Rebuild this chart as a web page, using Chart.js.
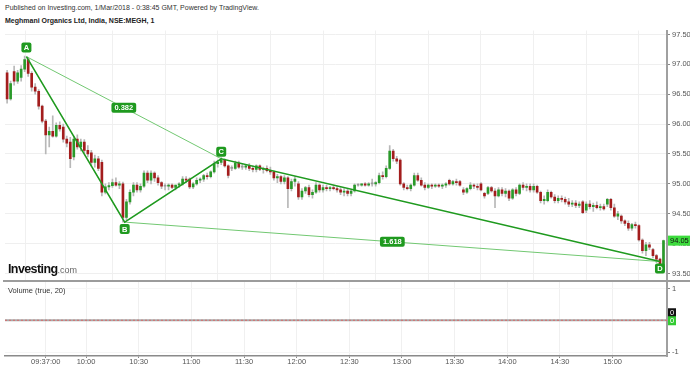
<!DOCTYPE html>
<html>
<head>
<meta charset="utf-8">
<script src="https://cdn.jsdelivr.net/npm/chart.js@4.4.0/dist/chart.umd.min.js"></script>
<style>
    body { margin: 0; width: 690px; height: 368px; background: #fff; overflow: hidden; position: relative; font-family: "Liberation Sans", Arial, sans-serif; }
    #head1 { position: absolute; left: 5px; top: 4px; font-size: 7px; color: #333; white-space: nowrap; }
    #head2 { position: absolute; left: 5px; top: 17px; font-size: 7px; font-weight: bold; color: #222; white-space: nowrap; }
    #priceChart { position: absolute; left: 0; top: 24px; }
    #volChart { position: absolute; left: 0; top: 275px; }
    #sep { position: absolute; left: 3px; top: 280px; width: 687px; height: 2px; background: #9c9c9c; }
    #logo { position: absolute; left: 8px; top: 259px; white-space: nowrap; }
    #logo b { font-size: 12.5px; color: #111; letter-spacing: -0.6px; }
    #logo span { font-size: 9px; color: #666; }
</style>
</head>
<body>
<div id="head1">Published on Investing.com, 1/Mar/2018 - 0:38:45 GMT, Powered by TradingView.</div>
<div id="head2">Meghmani Organics Ltd, India, NSE:MEGH, 1</div>
<canvas id="priceChart" width="690" height="264"></canvas>
<canvas id="volChart" width="690" height="93"></canvas>
<div id="sep"></div>
<div id="logo"><b>Investing</b><span>.com</span></div>
<script>
// 2-minute candles, NSE:MEGH
var times = [
    '09:15','09:17','09:19','09:21','09:23','09:25','09:27','09:29','09:31','09:33','09:35','09:37','09:39','09:41','09:43','09:45','09:47','09:49','09:51','09:53','09:55','09:57','09:59',
    '10:01','10:03','10:05','10:07','10:09','10:11','10:13','10:15','10:17','10:19','10:21','10:23','10:25','10:27','10:29','10:31','10:33','10:35','10:37','10:39','10:41','10:43','10:45','10:47','10:49','10:51','10:53','10:55','10:57','10:59',
    '11:01','11:03','11:05','11:07','11:09','11:11','11:13','11:15','11:17','11:19','11:21','11:23','11:25','11:27','11:29','11:31','11:33','11:35','11:37','11:39','11:41','11:43','11:45','11:47','11:49','11:51','11:53','11:55','11:57','11:59',
    '12:01','12:03','12:05','12:07','12:09','12:11','12:13','12:15','12:17','12:19','12:21','12:23','12:25','12:27','12:29','12:31','12:33','12:35','12:37','12:39','12:41','12:43','12:45','12:47','12:49','12:51','12:53','12:55','12:57','12:59',
    '13:01','13:03','13:05','13:07','13:09','13:11','13:13','13:15','13:17','13:19','13:21','13:23','13:25','13:27','13:29','13:31','13:33','13:35','13:37','13:39','13:41','13:43','13:45','13:47','13:49','13:51','13:53','13:55','13:57','13:59',
    '14:01','14:03','14:05','14:07','14:09','14:11','14:13','14:15','14:17','14:19','14:21','14:23','14:25','14:27','14:29','14:31','14:33','14:35','14:37','14:39','14:41','14:43','14:45','14:47','14:49','14:51','14:53','14:55','14:57','14:59',
    '15:01','15:03','15:05','15:07','15:09','15:11','15:13','15:15','15:17','15:19','15:21','15:23','15:25','15:27','15:29'
];
var opens = [
    96.86,96.42,96.88,96.72,96.78,96.92,97.08,96.85,96.62,96.55,96.30,96.05,95.82,95.88,95.80,95.98,95.95,95.75,95.70,95.45,95.75,95.62,95.70,
    95.56,95.52,95.36,95.42,95.36,94.86,94.95,94.97,95.02,94.98,95.00,94.44,94.70,94.86,94.98,94.90,94.96,95.18,95.06,95.18,95.10,95.02,94.96,94.96,94.98,94.94,94.98,95.00,95.08,95.08,
    94.95,95.00,95.06,95.08,95.14,95.12,95.20,95.34,95.36,95.40,95.30,95.26,95.26,95.35,95.28,95.28,95.30,95.26,95.24,95.30,95.24,95.26,95.22,95.20,95.10,95.12,95.04,95.10,94.92,95.04,
    95.00,94.78,94.88,94.94,94.82,94.86,94.98,94.90,94.94,94.92,94.94,94.92,94.90,94.86,94.88,94.84,94.88,94.98,94.98,95.00,94.98,95.00,95.00,95.02,95.14,95.12,95.26,95.55,95.42,95.40,
    95.00,94.94,94.92,94.98,95.14,95.06,94.98,94.94,94.98,94.96,94.98,94.96,94.98,95.06,95.00,95.04,95.04,94.90,94.86,94.92,94.98,94.96,95.00,94.84,94.84,94.94,94.88,94.80,94.90,94.84,
    94.88,94.76,94.90,94.84,94.98,94.94,94.96,94.90,94.96,94.86,94.72,94.72,94.86,94.78,94.72,94.76,94.74,94.70,94.66,94.68,94.64,94.70,94.56,94.66,94.62,94.64,94.60,94.62,94.66,94.74,
    94.60,94.46,94.46,94.38,94.34,94.26,94.32,94.30,94.06,93.88,93.98,93.90,93.80,93.74,93.64
];
var highs = [
    96.90,96.72,96.97,96.90,96.98,97.14,97.12,96.88,96.68,96.58,96.32,96.08,95.95,96.14,96.02,96.04,96.00,95.80,95.78,95.80,95.82,95.75,95.74,
    95.64,95.56,95.48,95.46,95.40,95.00,95.02,95.08,95.10,95.04,95.03,94.74,94.90,95.02,95.02,95.00,95.22,95.22,95.22,95.20,95.14,95.04,95.00,95.00,95.00,94.98,95.02,95.12,95.12,95.10,
    95.02,95.10,95.10,95.16,95.18,95.22,95.38,95.40,95.44,95.42,95.32,95.30,95.38,95.38,95.33,95.32,95.34,95.30,95.32,95.32,95.28,95.30,95.28,95.22,95.16,95.14,95.14,95.12,95.08,95.12,
    95.04,94.92,94.96,94.98,94.90,95.02,95.00,94.98,94.98,94.96,94.98,94.96,94.94,94.92,94.92,94.90,95.00,95.00,95.00,95.02,95.02,95.08,95.04,95.18,95.20,95.30,95.64,95.58,95.46,95.42,
    95.02,94.98,95.00,95.18,95.18,95.10,95.02,95.00,95.00,95.00,95.00,95.00,95.02,95.08,95.06,95.08,95.06,94.94,94.94,95.02,95.00,95.00,95.02,94.86,94.96,94.96,94.92,94.94,94.94,94.92,
    94.90,94.92,94.94,95.00,95.02,95.00,95.00,95.00,94.98,94.88,94.80,94.90,94.88,94.82,94.80,94.80,94.78,94.76,94.72,94.72,94.70,94.72,94.70,94.72,94.68,94.70,94.66,94.66,94.76,94.76,
    94.66,94.54,94.48,94.40,94.38,94.34,94.36,94.32,94.08,94.02,94.02,93.92,93.82,93.76,94.06
];
var lows = [
    96.35,96.40,96.65,96.68,96.72,96.88,96.80,96.55,96.50,96.25,96.02,95.50,95.62,95.78,95.78,95.88,95.70,95.62,95.27,95.40,95.58,95.55,95.52,
    95.45,95.30,95.28,95.22,94.80,94.83,94.90,94.94,94.96,94.92,94.36,94.40,94.66,94.80,94.86,94.86,94.94,95.02,95.00,95.04,94.98,94.92,94.90,94.90,94.92,94.90,94.94,94.98,95.02,94.92,
    94.92,94.98,95.02,95.04,95.08,95.10,95.18,95.28,95.32,95.28,95.10,95.22,95.24,95.26,95.24,95.24,95.22,95.20,95.20,95.22,95.18,95.20,95.16,95.06,95.02,95.00,95.00,94.60,94.88,94.96,
    94.74,94.74,94.84,94.78,94.76,94.84,94.86,94.86,94.88,94.88,94.90,94.86,94.82,94.80,94.80,94.80,94.86,94.96,94.96,94.96,94.96,94.96,94.96,95.00,95.08,95.10,95.24,95.38,95.34,94.98,
    94.90,94.90,94.88,94.96,95.04,94.96,94.90,94.92,94.92,94.94,94.94,94.92,94.94,94.98,94.98,94.98,94.96,94.82,94.84,94.90,94.92,94.90,94.88,94.76,94.82,94.86,94.60,94.78,94.80,94.78,
    94.72,94.74,94.80,94.82,94.90,94.88,94.86,94.86,94.84,94.68,94.66,94.70,94.76,94.68,94.68,94.70,94.66,94.62,94.62,94.60,94.60,94.50,94.52,94.58,94.54,94.58,94.56,94.56,94.62,94.56,
    94.44,94.40,94.34,94.30,94.22,94.22,94.26,94.04,93.84,93.80,93.90,93.76,93.68,93.60,93.62
];
var closes = [
    96.42,96.68,96.72,96.86,96.92,97.08,96.85,96.62,96.55,96.30,96.05,95.82,95.88,95.80,95.98,95.92,95.75,95.68,95.42,95.75,95.62,95.70,95.56,
    95.50,95.36,95.42,95.26,94.86,94.95,94.97,95.02,94.98,95.00,94.44,94.70,94.86,94.98,94.90,94.96,95.18,95.06,95.18,95.10,95.02,94.96,94.96,94.98,94.94,94.98,95.00,95.08,95.06,94.95,
    95.00,95.06,95.08,95.14,95.12,95.20,95.34,95.36,95.40,95.30,95.14,95.26,95.35,95.28,95.28,95.30,95.26,95.24,95.30,95.24,95.26,95.22,95.20,95.10,95.12,95.04,95.10,94.92,95.04,95.08,
    94.78,94.88,94.94,94.82,94.86,94.98,94.90,94.94,94.92,94.94,94.92,94.90,94.86,94.88,94.84,94.88,94.98,94.98,95.00,94.98,95.00,95.00,95.02,95.14,95.12,95.26,95.55,95.42,95.38,95.00,
    94.94,94.92,94.98,95.14,95.06,94.98,94.94,94.98,94.96,94.98,94.96,94.98,95.00,95.00,95.04,95.02,94.98,94.86,94.92,94.98,94.96,94.94,94.90,94.80,94.94,94.88,94.80,94.90,94.84,94.88,
    94.76,94.90,94.84,94.98,94.94,94.96,94.90,94.96,94.86,94.72,94.74,94.86,94.78,94.72,94.76,94.74,94.70,94.66,94.68,94.64,94.66,94.52,94.66,94.62,94.64,94.60,94.62,94.58,94.74,94.60,
    94.46,94.50,94.38,94.34,94.26,94.32,94.30,94.06,93.88,93.98,93.94,93.80,93.74,93.64,94.05
];

var priceTicks = [93.5, 94, 94.5, 95, 95.5, 96, 96.5, 97, 97.5];
var xTickTimes = ['09:37', '10:00', '10:30', '11:00', '11:30', '12:00', '12:30', '13:00', '13:30', '14:00', '14:30', '15:00'];
var xTickLabels = ['09:37:00', '10:00', '10:30', '11:00', '11:30', '12:00', '12:30', '13:00', '13:30', '14:00', '14:30', '15:00'];

var patternNames = ['A', 'B', 'C', 'D'];
var patternTimes = ['09:26', '10:22', '11:17', '15:27'];
var patternPrices = [97.13, 94.36, 95.42, 93.70];
var fibLabels = ['0.382', '1.618'];

var volumeTicks = [-1, 1];
var volumeLevel = 0;
var lastPrice = 94.05;

var X_MIN = 553.8, X_MAX = 931;
var UP = '#2a9a2a', DOWN = '#a31d1d', FLAT = '#9a9a9a', PATTERN = '#1f9a1f';

Chart.defaults.font.family = '"Liberation Sans", Arial, sans-serif';
Chart.defaults.animation = false;

function toMin(s) {
    var p = s.split(':');
    return parseInt(p[0], 10) * 60 + parseInt(p[1], 10);
}

function candleColor(i) {
    if (closes[i] > opens[i]) return UP;
    if (closes[i] < opens[i]) return DOWN;
    return FLAT;
}

function box(ctx, x, y, w, h, fill) {
    ctx.beginPath();
    if (ctx.roundRect) ctx.roundRect(x, y, w, h, 2); else ctx.rect(x, y, w, h);
    ctx.fillStyle = fill;
    ctx.fill();
}

function xScale(showLabels) {
    return {
        type: 'linear', min: X_MIN, max: X_MAX, offset: false,
        afterBuildTicks: function (s) {
            s.ticks = xTickTimes.map(function (t) { return { value: toMin(t) }; });
        },
        afterFit: function (s) { s.height = showLabels ? 12 : 0; },
        grid: { color: '#f0f0f0', drawTicks: showLabels, tickLength: 2, tickColor: '#888' },
        border: { display: showLabels, color: '#8a8a8a', width: 1.5 },
        ticks: {
            display: showLabels, autoSkip: false, maxRotation: 0, padding: -1,
            font: { size: 7.5 }, color: '#555',
            callback: function (v, i) { return xTickLabels[i]; }
        }
    };
}

var labelPlugin = {
    id: 'patternLabels',
    afterDatasetsDraw: function (chart) {
        var ctx = chart.ctx, xs = chart.scales.x, ys = chart.scales.y;
        var pts = patternTimes.map(function (t, i) {
            return { x: xs.getPixelForValue(toMin(t)), y: ys.getPixelForValue(patternPrices[i]) };
        });
        ctx.save();
        ctx.textAlign = 'center';
        ctx.textBaseline = 'middle';
        ctx.font = 'bold 7.5px "Liberation Sans", Arial';
        [[0, 2], [1, 3]].forEach(function (pair, k) {
            var cx = (pts[pair[0]].x + pts[pair[1]].x) / 2;
            var cy = (pts[pair[0]].y + pts[pair[1]].y) / 2;
            var w = ctx.measureText(fibLabels[k]).width + 6;
            box(ctx, cx - w / 2, cy - 5, w, 10, PATTERN);
            ctx.fillStyle = '#fff';
            ctx.fillText(fibLabels[k], cx, cy + 0.5);
        });
        var offs = [-9, 7, -7, 7];
        patternNames.forEach(function (n, i) {
            var cx = pts[i].x, cy = pts[i].y + offs[i];
            box(ctx, cx - 5, cy - 5, 10, 10, PATTERN);
            ctx.fillStyle = '#fff';
            ctx.fillText(n, cx, cy + 0.5);
        });
        ctx.restore();
    },
    afterDraw: function (chart) {
        var ctx = chart.ctx, ys = chart.scales.y;
        var y = ys.getPixelForValue(lastPrice);
        ctx.save();
        ctx.fillStyle = '#3ddc3d';
        ctx.fillRect(668, y - 5, 22, 10);
        ctx.fillStyle = '#111';
        ctx.font = '7.5px "Liberation Sans", Arial';
        ctx.textBaseline = 'middle';
        ctx.fillText(lastPrice.toFixed(2), 670, y + 0.5);
        ctx.restore();
    }
};

new Chart(document.getElementById('priceChart'), {
    type: 'bar',
    data: {
        datasets: [
            {
                type: 'line', order: 0,
                data: patternTimes.map(function (t, i) { return { x: toMin(t), y: patternPrices[i] }; }),
                borderColor: PATTERN, borderWidth: 1.6, pointRadius: 0
            },
            {
                type: 'line', order: 1,
                data: [0, 2].map(function (i) { return { x: toMin(patternTimes[i]), y: patternPrices[i] }; }),
                borderColor: '#72c872', borderWidth: 1, pointRadius: 0
            },
            {
                type: 'line', order: 1,
                data: [1, 3].map(function (i) { return { x: toMin(patternTimes[i]), y: patternPrices[i] }; }),
                borderColor: '#72c872', borderWidth: 1, pointRadius: 0
            },
            {
                order: 3, grouped: false, barThickness: 1,
                data: times.map(function (t, i) { return { x: toMin(t), y: [lows[i], highs[i]] }; }),
                backgroundColor: '#b8b8b8'
            },
            {
                order: 2, grouped: false, barThickness: 2, minBarLength: 1,
                data: times.map(function (t, i) { return { x: toMin(t), y: [opens[i], closes[i]] }; }),
                backgroundColor: function (c) { return candleColor(c.dataIndex); }
            }
        ]
    },
    options: {
        responsive: false,
        layout: { padding: { left: 5, top: 0, right: 0, bottom: 0 } },
        plugins: { legend: { display: false }, tooltip: { enabled: false } },
        scales: {
            x: xScale(false),
            y: {
                position: 'right', min: 93.366, max: 97.567,
                afterBuildTicks: function (s) { s.ticks = priceTicks.map(function (v) { return { value: v }; }); },
                afterFit: function (s) { s.width = 23; },
                grid: { color: '#efefef', tickLength: 3, tickColor: '#888' },
                border: { color: '#a0a0a0', width: 2 },
                ticks: { padding: 2, font: { size: 7.5 }, color: '#555', callback: function (v) { return v.toFixed(2); } }
            }
        }
    },
    plugins: [labelPlugin]
});

var volPlugin = {
    id: 'volLabels',
    afterDraw: function (chart) {
        var ctx = chart.ctx, ys = chart.scales.y, top = chart.chartArea.top;
        var y0 = ys.getPixelForValue(volumeLevel);
        ctx.save();
        ctx.font = '7.5px "Liberation Sans", Arial';
        ctx.fillStyle = '#333';
        ctx.textBaseline = 'middle';
        ctx.fillText('Volume (true, 20)', 8, top + 9);
        ctx.fillStyle = '#111';
        ctx.fillRect(668, y0 - 12, 8, 9);
        ctx.fillStyle = '#33cc33';
        ctx.fillRect(668, y0 - 4, 8, 9);
        ctx.fillStyle = '#fff';
        ctx.textAlign = 'center';
        ctx.fillText(String(volumeLevel), 672, y0 - 7.5);
        ctx.fillText(String(volumeLevel), 672, y0 + 0.5);
        ctx.restore();
    }
};

new Chart(document.getElementById('volChart'), {
    type: 'line',
    data: {
        datasets: [
            {
                data: [{ x: X_MIN, y: volumeLevel }, { x: X_MAX, y: volumeLevel }],
                borderColor: '#a8a8a8', borderWidth: 2, pointRadius: 0, order: 1
            },
            {
                data: [{ x: X_MIN, y: volumeLevel }, { x: X_MAX, y: volumeLevel }],
                borderColor: '#d86a6a', borderWidth: 1, borderDash: [2, 2], pointRadius: 0, order: 0
            }
        ]
    },
    options: {
        responsive: false,
        layout: { padding: { left: 5, top: 0, right: 0, bottom: 0 } },
        plugins: { legend: { display: false }, tooltip: { enabled: false } },
        scales: {
            x: xScale(true),
            y: {
                position: 'right', min: -1.125, max: 1.22,
                afterBuildTicks: function (s) { s.ticks = volumeTicks.map(function (v) { return { value: v }; }); },
                afterFit: function (s) { s.width = 23; },
                grid: { color: '#f6f6f6', tickLength: 3, tickColor: '#888' },
                border: { color: '#a0a0a0', width: 2 },
                ticks: { padding: 2, font: { size: 7.5 }, color: '#555' }
            }
        }
    },
    plugins: [volPlugin]
});
</script>
</body>
</html>
